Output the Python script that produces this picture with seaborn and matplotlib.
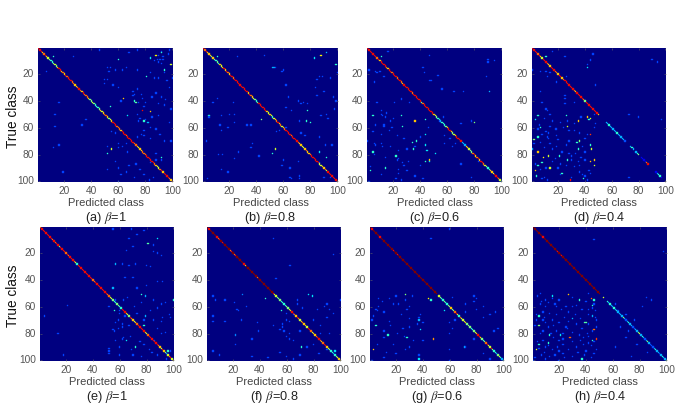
# -*- coding: utf-8 -*-
import numpy as np
import matplotlib
matplotlib.use("Agg")
import matplotlib.pyplot as plt
import seaborn as sns

plt.rcParams['font.family'] = ['Liberation Sans', 'DejaVu Sans']
plt.rcParams['mathtext.fontset'] = 'stix'

captions = ["(a) $\\beta$=1", "(b) $\\beta$=0.8", "(c) $\\beta$=0.6", "(d) $\\beta$=0.4",
            "(e) $\\beta$=1", "(f) $\\beta$=0.8", "(g) $\\beta$=0.6", "(h) $\\beta$=0.4"]
tick_vals = [20, 40, 60, 80, 100]
dim_level = 0.19

# diagonal, tenths of full scale, class 1 to 100
diag_a = [9,9,9,7,8,9,7,6,5,4, 4,5,6,5,7,9,9,7,8,7, 9,8,9,9,9,8,8,7,7,8, 9,8,7,9,8,8,8,7,5,5,
          6,5,4,4,4,5,7,6,7,8, 8,7,5,6,7,9,9,9,8,8, 8,7,9,9,9,8,9,9,9,9, 9,8,8,7,6,7,7,8,8,8,
          9,9,9,9,9,9,8,7,6,6, 8,9,7,9,9,9,9,8,7,8]
diag_b = [9,8,9,7,7,7,5,7,5,4, 5,4,7,6,7,9,7,9,8,7, 9,9,8,9,9,9,9,9,9,9, 9,9,9,7,9,8,7,6,5,4,
          5,9,9,9,9,9,9,7,6,7, 6,4,6,7,8,9,7,8,6,7, 8,9,9,9,9,8,9,9,9,9, 8,7,7,6,6,7,8,7,7,8,
          9,9,9,9,9,9,6,6,7,7, 8,6,9,9,9,9,9,9,9,8]
diag_c = [9,9,9,9,9,9,9,8,9,7, 9,9,9,9,8,7,9,9,8,9, 9,9,8,9,9,8,7,9,9,9, 9,9,9,8,9,9,9,9,9,9,
          5,8,9,9,9,9,9,9,9,7, 6,5,4,4,3,4,4,4,5,7, 9,9,7,5,6,7,9,9,9,9, 3,3,3,7,7,6,5,5,8,9,
          7,8,9,7,9,9,8,6,5,4, 4,7,7,6,9,9,9,8,6,4]
diag_d = [9,9,9,9,8,9,7,6,9,9, 9,8,7,7,9,9,9,8,8,7, 9,9,7,8,9,9,9,9,9,9, 9,8,7,9,9,9,9,9,8,5,
          9,9,9,9,9,9,9,9,9,7, 0,0,0,0,0,3,3,4,3,3, 3,3,3,4,3,3,3,3,3,2, 0,0,0,3,4,3,0,3,4,5,
          0,1,1,1,1,8,9,0,0,0, 0,0,1,3,4,4,1,0,0,0]
diag_e = [8,9,9,9,9,9,9,9,9,8, 9,8,9,9,5,9,9,9,9,8, 9,8,9,9,9,8,6,4,9,9, 9,9,9,9,9,9,9,9,9,8,
          8,9,9,9,9,9,9,9,9,9, 8,8,6,6,5,4,4,5,5,4, 4,9,9,9,7,6,5,9,8,7, 6,7,8,9,9,9,9,9,7,6,
          8,9,9,9,9,9,9,9,8,7, 6,9,7,5,3,6,8,9,6,7]
diag_f = [10,9,10,10,10,10,10,9,8,9, 10,9,10,10,10,10,10,8,9,10, 8,9,10,10,10,10,10,9,7,10,
          10,10,10,10,10,10,10,8,10,10, 10,10,10,10,10,10,10,10,10,9,
          6,6,5,5,5,4,4,4,4,5, 5,6,7,9,9,8,7,9,8,6, 7,8,7,7,6,9,9,8,6,7,
          7,8,9,9,8,7,8,9,9,7, 6,5,4,4,3,4,5,6,7,7]
diag_g = [10,9,10,10,10,10,10,9,10,10, 10,10,10,10,10,10,10,9,10,10, 9,10,10,10,10,10,10,10,10,10,
          10,10,10,10,10,10,10,10,10,10, 10,10,10,10,10,10,10,10,10,10,
          0,6,5,4,4,5,4,4,5,5, 7,5,5,8,9,6,4,8,6,6, 6,7,5,5,5,4,4,5,6,7,
          9,9,7,5,4,5,8,9,6,6, 9,5,4,4,3,5,6,4,3,3]
diag_h = [10,10,10,10,10,10,10,9,10,10, 10,10,10,10,10,10,10,10,9,10, 10,9,10,10,10,10,10,10,10,10,
          10,10,10,10,10,10,10,10,10,10, 10,10,10,10,10,10,10,10,10,10,
          0,0,6,0,0,4,3,4,3,3, 4,3,4,3,3,3,3,5,3,2, 3,4,3,3,2,2,3,3,5,6,
          3,4,3,2,3,5,3,2,2,2, 3,4,3,3,2,3,4,3,3,4]

# brighter off-diagonal cells: (true, predicted, level)
hot_a = [(7,12,.4),(47,78,.9),(48,84,.7),(38,64,.7),(40,72,.4),(41,73,.45),(44,54,.4),(79,52,.4),
         (76,55,.6),(55,79,.4),(56,82,.3),(82,92,.4),(22,81,.4),(6,88,.65),(4,92,.4),(17,94,.4),
         (13,99,.6),(9,60,.4),(8,84,.35),(51,67,.35)]
hot_b = [(7,11,.4),(6,88,.65),(8,83,.35),(13,99,.4),(51,5,.4),(54,44,.5),(47,78,.4),(55,77,.4),
         (56,80,.4),(79,52,.4),(76,54,.6),(78,87,.35),(82,92,.4),(4,92,.3),(15,53,.3),(15,52,.3)]
hot_c = [(7,11,.4),(51,5,.4),(51,26,.4),(55,36,.7),(54,44,.4),(56,80,.5),(59,27,.4),(70,37,.4),
         (71,34,.4),(76,35,.4),(78,5,.4),(73,44,.35),(77,45,.35),(81,22,.4),(84,47,.7),(85,44,.4),
         (85,47,.35),(79,51,.35),(90,14,.4),(92,3,.4),(65,44,.35),(33,91,.3)]
hot_d = [(7,11,.4),(15,42,.35),(51,5,.4),(54,3,.35),(51,26,.4),(52,42,.7),(53,44,.6),(54,43,.4),
         (55,35,.7),(59,27,.6),(60,7,.4),(65,44,.85),(67,5,.4),(69,2,.5),(70,36,.5),(71,34,.4),
         (73,44,.4),(76,35,.4),(76,45,.6),(78,5,.7),(81,13,.6),(82,9,.65),(81,21,.4),(84,27,.4),
         (84,47,.7),(85,44,.7),(86,8,.4),(88,5,.4),(88,47,.6),(90,14,.6),(92,3,.7),(94,23,.4),
         (96,4,.4),(98,39,.4),(99,29,.9),(76,1,.3)]
hot_e = [(13,81,.45),(9,88,.35),(28,57,.3),(46,55,.3),(51,76,.4),(52,79,.3),(63,56,.4),(74,78,.4),
         (67,79,.3),(90,72,.4),(85,65,.35),(55,100,.4),(93,96,.4)]
hot_f = [(54,44,.4),(51,76,.35),(52,79,.35),(63,56,.4),(90,71,.4),(93,96,.35),(81,22,.25),(51,27,.25)]
hot_g = [(51,27,.5),(54,44,.65),(55,46,.4),(74,5,.4),(77,38,.35),(81,14,.4),(83,28,.4),(84,48,.75),
         (92,3,.7),(63,56,.35),(99,37,.35),(70,37,.3),(90,71,.3)]
hot_h = [(51,27,.7),(52,15,.35),(54,44,.8),(55,35,.4),(55,46,.4),(53,53,.65),(59,45,.4),(67,5,.4),
         (72,40,.45),(72,39,.45),(74,5,.5),(77,46,.8),(81,13,.4),(81,21,.35),(83,28,.8),(84,48,.85),
         (85,45,.4),(87,12,.4),(88,5,.4),(92,3,.6),(99,37,.4),(67,45,.3),(69,30,.3)]

# faint off-diagonal cells: (true, predicted)
dim_a = [(2,98),(3,92),(5,97),(7,93),(8,84),(9,89),(9,91),(9,93),(10,87),(11,90),(12,92),(4,68),(2,74),
         (6,90),(15,52),(15,54),(18,53),(17,58),(17,63),(15,66),(17,74),(19,84),(19,94),(24,50),(24,52),
         (27,50),(23,87),(23,90),(25,96),(23,100),(28,56),(30,60),(30,98),(31,74),(33,71),(35,72),(35,77),
         (36,71),(38,78),(37,85),(34,88),(37,92),(39,95),(40,62),(41,75),(41,80),(42,90),(43,94),(44,79),
         (46,99),(50,74),(51,90),(52,85),(53,76),(54,80),(55,75),(56,98),(60,84),(61,88),(62,79),(63,55),
         (64,58),(65,77),(65,91),(66,79),(67,74),(68,84),(70,94),(70,99),(72,60),(72,66),(74,52),(74,63),
         (75,60),(75,12),(73,16),(50,13),(59,13),(54,36),(58,33),(41,16),(93,19),(18,7),(84,88),(84,92),
         (79,88),(86,84),(87,73),(88,68),(90,60),(91,52),(93,66),(97,72),(99,83),(97,86),(95,62),(91,76),
         (78,67),(85,58),(95,79),(100,60),(2,46),(7,27)]
dim_b = [(7,26),(6,46),(15,52),(15,54),(18,59),(17,60),(19,100),(22,87),(22,89),(24,85),(23,95),(30,84),
         (33,90),(37,64),(36,85),(37,97),(40,99),(38,11),(41,8),(41,23),(42,73),(40,71),(41,75),(42,78),
         (47,66),(50,92),(52,5),(51,14),(50,20),(50,24),(51,88),(53,93),(55,72),(56,24),(58,13),(58,33),
         (58,36),(60,19),(62,14),(63,55),(64,73),(66,76),(67,87),(70,3),(72,37),(73,91),(73,96),(75,36),
         (78,27),(80,12),(80,15),(81,42),(83,24),(84,60),(86,87),(90,65),(91,14),(93,19),(97,65),(98,66),
         (98,72),(97,90),(97,95),(98,4),(96,72),(85,71),(88,59),(62,57),(60,62),(45,62),(46,98),(28,62)]
dim_c = [(3,16),(6,47),(9,90),(10,95),(11,90),(17,2),(18,7),(18,10),(19,8),(22,13),(15,42),(19,43),
         (22,89),(21,53),(25,48),(26,6),(33,65),(33,72),(31,56),(41,8),(41,21),(38,26),(39,26),(41,32),
         (47,11),(49,15),(50,11),(52,14),(51,12),(53,20),(55,18),(58,7),(58,13),(59,13),(60,19),(62,17),
         (63,5),(66,23),(65,11),(68,28),(70,1),(72,6),(73,7),(72,11),(74,18),(74,12),(77,24),(76,30),
         (74,36),(80,6),(82,14),(83,24),(86,27),(84,23),(85,31),(88,40),(88,28),(89,3),(91,24),(92,30),
         (95,11),(94,24),(96,36),(97,78),(98,22),(99,26),(98,42),(100,2),(55,54),(52,57),(66,58),(68,62),
         (72,66),(74,64),(87,70),(85,83),(57,70),(55,78),(60,46),(67,40),(72,58),(25,47)]
dim_d = [(3,16),(5,46),(7,25),(10,44),(9,90),(11,94),(17,1),(18,7),(18,11),(19,14),(22,12),(22,26),(13,42),
         (26,19),(33,7),(36,25),(41,8),(41,32),(38,25),(42,25),(46,11),(50,14),(53,10),(55,16),(51,26),
         (58,6),(59,14),(61,18),(61,19),(60,24),(62,28),(64,13),(63,11),(64,36),(66,19),(69,20),(68,13),
         (67,12),(71,7),(72,14),(73,26),(74,19),(74,38),(76,16),(78,23),(79,28),(79,33),(82,37),(84,30),
         (85,35),(87,22),(88,26),(88,36),(89,32),(90,11),(91,7),(93,36),(94,44),(95,38),(96,40),(97,10),
         (98,8),(99,42),(97,73),(70,28),(68,40),(65,42),(60,47),(57,48),(50,47),(84,40),(92,43),(52,37),
         (56,22),(47,12),(61,5),(65,8),(55,27),(78,40),(81,30),(85,16),(90,20),(95,22),(97,30),(50,73),
         (54,97),(52,80),(9,44),(28,48),(57,32),(62,32),(75,10),(72,2),(83,18),(87,3),(99,12)]
dim_e = [(2,55),(2,69),(6,73),(3,78),(9,67),(15,70),(18,65),(19,85),(20,88),(14,85),(22,91),(28,62),
         (29,67),(28,72),(29,80),(30,83),(38,64),(38,70),(41,88),(41,92),(44,80),(46,73),(53,66),(55,63),
         (55,85),(57,76),(58,91),(59,21),(60,71),(61,88),(63,83),(65,73),(66,97),(67,4),(67,64),(68,92),
         (70,59),(70,78),(71,91),(72,57),(74,67),(75,62),(76,59),(77,55),(78,56),(80,14),(80,91),(82,68),
         (84,62),(85,57),(86,75),(88,78),(91,52),(92,69),(93,52),(95,52),(96,18),(96,60),(94,84),(96,88),
         (93,98),(97,76),(99,95),(76,88),(60,52),(63,60),(70,85),(79,94),(85,86),(73,62),(65,60),(57,94),
         (55,57),(68,98),(83,63),(90,60),(92,82),(96,70)]
dim_f = [(9,50),(21,95),(29,62),(29,63),(39,52),(52,5),(55,7),(55,14),(57,21),(60,30),(62,23),(63,24),
         (67,5),(71,5),(71,14),(70,26),(72,38),(74,50),(78,39),(84,34),(88,22),(93,5),(96,10),(97,34),
         (98,46),(55,68),(58,68),(61,72),(58,90),(60,88),(62,83),(65,95),(66,65),(70,60),(71,62),(73,57),
         (75,57),(77,55),(78,58),(80,62),(82,60),(84,62),(85,65),(78,70),(80,85),(80,92),(70,80),(68,90),
         (55,100),(90,75),(88,80),(95,84),(92,90),(96,70),(94,55),(97,60),(99,65),(65,60),(62,92),(74,85)]
dim_g = [(2,60),(9,46),(52,20),(54,15),(56,10),(58,18),(60,7),(62,5),(60,30),(62,28),(64,11),(66,38),(67,3),
         (68,37),(70,2),(71,15),(72,40),(73,36),(75,30),(76,25),(80,21),(82,26),(83,11),(85,40),(85,33),
         (88,6),(88,18),(92,27),(94,13),(96,37),(98,11),(55,27),(52,32),(54,7),(58,22),(63,6),(66,24),
         (69,30),(78,11),(74,16),(90,30),(95,20),(60,60),(58,72),(56,78),(54,80),(53,62),(60,85),(62,80),
         (64,72),(66,90),(68,85),(70,64),(70,70),(72,60),(76,62),(80,60),(78,93),(76,96),(84,78),(90,72),
         (92,60),(95,85),(52,78),(64,94),(63,56),(100,2),(100,60),(99,90)]
dim_h = [(50,6),(52,4),(54,15),(55,20),(56,7),(57,12),(58,6),(58,17),(59,33),(60,10),(60,18),(60,25),(62,37),
         (62,42),(64,8),(64,27),(65,13),(66,18),(66,32),(68,9),(68,24),(69,36),(70,3),(70,15),(71,27),
         (72,10),(72,20),(73,33),(74,16),(75,25),(76,26),(76,37),(78,8),(78,18),(79,30),(80,6),(80,23),
         (81,35),(82,42),(83,16),(84,23),(85,8),(85,36),(86,30),(87,42),(88,23),(88,38),(89,12),(90,19),
         (90,33),(91,5),(92,15),(92,27),(93,40),(94,9),(94,34),(95,23),(96,7),(96,17),(96,39),(97,13),
         (97,30),(98,2),(98,44),(98,24),(99,10),(100,1),(100,20),(50,42),(53,30),(56,40),(58,46),(61,45),
         (63,47),(66,42),(68,47),(70,48),(73,42),(75,48),(78,45),(80,41),(83,38),(86,46),(89,44),(92,48),
         (95,46),(10,46),(19,98),(53,85),(55,89),(58,62),(60,82),(63,64),(66,70),(70,76),(75,66),(78,72),
         (83,70),(88,78),(90,62),(94,86),(97,74),(60,30),(70,8),(75,12),(80,14),(85,20),(90,10),(55,10),
         (62,22),(66,3),(74,2),(86,4),(93,20)]

diags = [diag_a, diag_b, diag_c, diag_d, diag_e, diag_f, diag_g, diag_h]
hots = [hot_a, hot_b, hot_c, hot_d, hot_e, hot_f, hot_g, hot_h]
dims = [dim_a, dim_b, dim_c, dim_d, dim_e, dim_f, dim_g, dim_h]

# left, right, top, bottom of each panel in pixels
W, H = 676, 419
boxes = [(38, 173, 48, 182), (203, 338, 48, 182), (367, 502, 48, 182), (532, 666, 48, 182),
         (40, 174, 227, 361), (207, 341, 227, 361), (370, 504, 227, 361), (533, 667, 227, 361)]

cmap = plt.get_cmap("jet")
fig = plt.figure(figsize=(W / 100, H / 100), dpi=100)

for i in range(8):
    l, r, t, b = boxes[i]
    ax = fig.add_axes([l / W, 1 - b / H, (r - l) / W, (b - t) / H])
    ax.set_facecolor(cmap(0.0))

    m = np.zeros((100, 100))
    for row, col in dims[i]:
        m[row - 1, col - 1] = dim_level
    for row, col, v in hots[i]:
        m[row - 1, col - 1] = v
    for k in range(100):
        m[k, k] = diags[i][k] / 10

    # empty cells are masked so the soft edges of the others are not painted over
    sns.heatmap(m, ax=ax, mask=(m == 0), cmap=cmap, vmin=0, vmax=1, cbar=False,
                linewidths=0.25, linecolor="face", antialiased=True)

    ax.set_xticks([v - 0.5 for v in tick_vals])
    ax.set_xticklabels(tick_vals, rotation=0)
    ax.set_yticks([v - 0.5 for v in tick_vals])
    ax.set_yticklabels(tick_vals, rotation=0)
    ax.tick_params(direction="in", length=1.5, width=0.4, color="#666666",
                   labelsize=7.3, labelcolor="#555555", pad=3, top=True, right=True)
    ax.set_xlabel("Predicted class", fontsize=8, color="#444444", labelpad=1)
    if i % 4 == 0:
        ax.set_ylabel("True class", fontsize=9.8, color="#111111")
        ax.yaxis.set_label_coords((20 - l) / (r - l), 0.485)
    ax.text(0.5, -0.27, captions[i], transform=ax.transAxes, ha="center", va="center",
            fontsize=9.2, color="#222222")

plt.savefig("out.png", dpi=100)
